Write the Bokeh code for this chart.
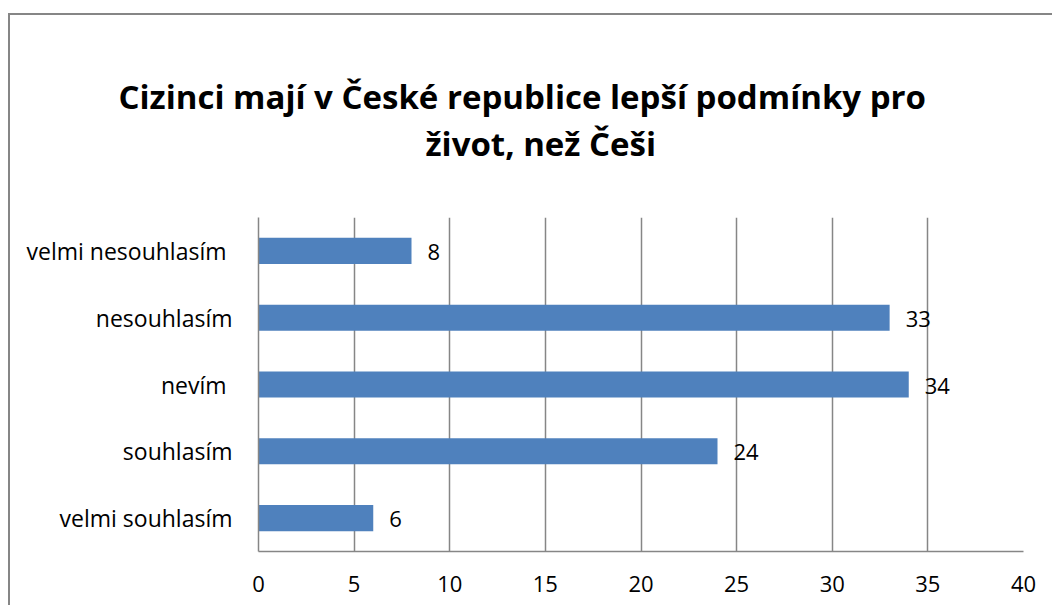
from bokeh.plotting import figure
from bokeh.models import Range1d, FactorRange, ColumnDataSource, LabelSet, Title, FixedTicker
from bokeh.core.properties import value
from bokeh.embed import file_html
from bokeh.resources import INLINE

title_lines = ["Cizinci mají v České republice lepší podmínky pro", "život, než Češi"]
categories = ["velmi nesouhlasím ", "nesouhlasím", "nevím ", "souhlasím", "velmi souhlasím"]
values = [8, 33, 34, 24, 6]
x_ticks = [0, 5, 10, 15, 20, 25, 30, 35, 40]

FONT = "Open Sans"
GRAY = "#868686"
BLUE = "#4F81BD"

src = ColumnDataSource(dict(cat=categories, val=values, lab=[str(v) for v in values]))

p = figure(width=1044, height=592, output_backend="svg", toolbar_location=None,
           y_range=FactorRange(factors=list(reversed(categories))),
           x_range=Range1d(0, 40), title=None,
           min_border_left=248, min_border_right=31, min_border_top=202, min_border_bottom=56)

p.hbar(y="cat", right="val", left=0, height=0.39, source=src, fill_color=BLUE, line_color=None)

labels = LabelSet(x="val", y="cat", text="lab", source=src, x_offset=16, y_offset=-1,
                  text_baseline="middle", text_font=value(FONT), text_font_size="22px",
                  text_color="#000000")
p.add_layout(labels)

# gap between plot area and the title (first panel item sits nearest the frame)
p.add_layout(Title(text=" ", text_font_size="1px", standoff=49), "above")
# two-line title, line 2 nearest the plot
for txt, off in zip(reversed(title_lines), [167, -140]):
    p.add_layout(Title(text=txt, align="left", offset=off, standoff=0,
                       text_font=FONT, text_font_style="bold",
                       text_font_size="33px", text_color="#000000"), "above")

p.outline_line_color = None
p.background_fill_color = "white"
p.border_fill_color = "white"

p.xgrid.ticker = FixedTicker(ticks=x_ticks)
p.xgrid.grid_line_color = GRAY
p.xgrid.grid_line_width = 1.5
p.ygrid.grid_line_color = None

p.xaxis.ticker = FixedTicker(ticks=x_ticks)
for ax in (p.xaxis[0], p.yaxis[0]):
    ax.axis_line_color = GRAY
    ax.axis_line_width = 1.5
    ax.major_tick_line_color = None
    ax.minor_tick_line_color = None
    ax.major_tick_out = 0
    ax.major_tick_in = 0
    ax.major_label_text_font = FONT
    ax.major_label_text_font_size = "22px"
    ax.major_label_text_color = "#000000"
p.yaxis.major_label_text_font_size = "23px"
p.xaxis.major_label_standoff = 24
p.yaxis.major_label_standoff = 26

p.styles = {"margin-left": "8px", "margin-top": "13px",
            "border-left": "2px solid #868686", "border-top": "2px solid #868686"}

open("out.html", "w").write(file_html(p, INLINE))
